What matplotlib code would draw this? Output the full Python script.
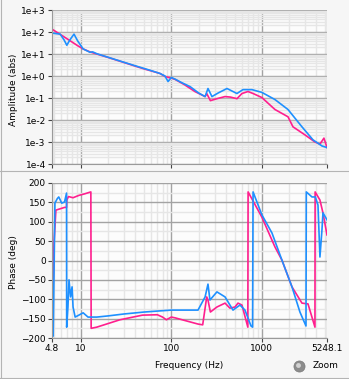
'''
    Bode plot of two measured transfer functions (amplitude + phase)
'''

from matplotlib import pyplot as plt
from matplotlib.ticker import FixedLocator, NullFormatter, LogLocator, MultipleLocator
from matplotlib.lines import Line2D
import numpy as np

# Amplitude, channel A (pink)
amp_a_freq = [4.8, 6.0, 7.0, 8.0, 9.2, 10.6, 12.6, 15, 20, 30, 40, 50, 60, 75,
              85, 100, 110, 140, 182, 236, 246, 270, 319, 392, 450, 531, 603,
              703, 800, 1000, 1396, 1945, 2208, 3000, 3863, 4385, 4853, 5248.1]
amp_a_val = [135, 75, 50, 35, 24, 17, 12.5, 10.0, 7.0, 4.1, 2.8, 2.1, 1.7, 1.3,
             0.95, 0.8, 0.7, 0.4, 0.197, 0.116, 0.16, 0.076, 0.093, 0.116, 0.11,
             0.093, 0.16, 0.197, 0.16, 0.105, 0.030, 0.014, 0.0049, 0.0021,
             0.001, 0.0008, 0.0015, 0.00056]

# Amplitude, channel B (blue)
amp_b_freq = [4.8, 5.3, 5.9, 6.5, 7.0, 7.6, 8.4, 9.2, 10.6, 12.6, 13.5, 15, 20,
              30, 40, 50, 60, 75, 85, 92, 100, 110, 130, 161, 200, 236, 254, 281,
              330, 412, 531, 618, 778, 1000, 1396, 1945, 2775, 3671, 4617, 5248.1]
amp_b_val = [89, 85, 80, 45, 25, 45, 80, 40, 17, 12, 12.5, 10.3, 7.1, 4.2, 2.9,
             2.2, 1.75, 1.3, 1.0, 0.56, 0.86, 0.72, 0.5, 0.33, 0.17, 0.116, 0.27,
             0.116, 0.17, 0.27, 0.16, 0.24, 0.24, 0.18, 0.085, 0.030, 0.0049,
             0.00126, 0.00066, 0.00056]

# Phase, channel A (pink)
ph_a_freq = [4.85, 4.9, 5.05, 5.3, 6.6, 6.95, 7.0, 7.3, 8.2, 9.5, 11, 12.9, 13.0,
             15, 27, 48, 70, 80, 88, 100, 110, 197, 222, 246, 254, 270, 319, 392,
             444, 505, 545, 603, 700, 705, 1000, 1396, 1667, 2152, 2775, 3236,
             3863, 3880, 4385, 4735, 5248.1]
ph_a_val = [-146, -100, 45, 130, 137, 137, 156, 165, 162, 168, 172, 177, -175,
            -172, -153, -141, -140, -146, -153, -146, -148, -164, -166, -94, -102,
            -133, -120, -110, -123, -120, -110, -115, -172, 177, 112, 35, 1, -68,
            -110, -112, -172, 177, 156, 123, 66]

# Phase, channel B (blue)
ph_b_freq = [4.8, 4.88, 4.95, 5.17, 5.5, 5.7, 6.15, 6.6, 6.95, 6.97, 7.2, 7.4,
             7.7, 8.0, 8.2, 8.65, 9.5, 10.6, 12, 15, 20, 30, 50, 75, 100, 197,
             236, 254, 267, 319, 392, 480, 573, 651, 759, 790, 800, 1000, 1294,
             1667, 2152, 2636, 3075, 3100, 3581, 3900, 4172, 4385, 4617, 4735,
             5248.1]
ph_b_val = [-195, -120, -195, 148, 160, 164, 148, 151, 174, -172, -120, -50, -94,
            -68, -120, -146, -141, -135, -146, -146, -143, -138, -133, -130, -128,
            -128, -94, -61, -102, -81, -94, -128, -115, -128, -169, -172, 177, 118,
            71, 1, -68, -133, -169, 177, 164, 164, 143, 9, 79, 123, 105]

X_TICKS = [4.8, 10, 100, 1000, 5248.1]
X_LABELS = ['4.8', '10', '100', '1000', '5248.1']
AMP_TICKS = [1e3, 1e2, 1e1, 1e0, 1e-1, 1e-2, 1e-3, 1e-4]
AMP_LABELS = ['1e+3', '1e+2', '1e+1', '1e+0', '1e-1', '1e-2', '1e-3', '1e-4']
PH_TICKS = [200, 150, 100, 50, 0, -50, -100, -150, -200]

PINK = '#ff1f8e'
BLUE = '#1e90ff'
BG = '#f6f6f6'
PLOT_BG = '#fcfcfc'
FONT = 6.5

W, H = 349, 379


def style_axes(ax):
    ax.set_facecolor(PLOT_BG)
    ax.set_xscale('log')
    ax.set_xlim(4.8, 5248.1)
    ax.xaxis.set_major_locator(FixedLocator(X_TICKS))
    ax.xaxis.set_minor_locator(LogLocator(base=10, subs=np.arange(2, 10)))
    ax.xaxis.set_minor_formatter(NullFormatter())
    ax.grid(True, which='major', color='#a3a3a3', lw=1.0)
    ax.grid(True, which='minor', color='#e6e6e6', lw=1.0)
    ax.set_axisbelow(True)
    for s in ['top', 'right']:
        ax.spines[s].set_visible(False)
    for s in ['left', 'bottom']:
        ax.spines[s].set_color('#9a9a9a')
        ax.spines[s].set_linewidth(0.8)
    ax.tick_params(which='major', length=3, width=0.8, color='#444444',
                   labelsize=FONT, pad=1.5)
    ax.tick_params(which='minor', length=0)


def main():
    fig = plt.figure(figsize=(W / 100, H / 100), dpi=100)
    fig.patch.set_facecolor(BG)
    plt.rcParams['font.family'] = 'DejaVu Sans'

    # panel frames
    fig.add_artist(Line2D([0, 1], [1 - 171 / H] * 2, color='#b4b4b4', lw=0.8))
    fig.add_artist(Line2D([0.5 / W, 0.5 / W], [0, 1], color='#b4b4b4', lw=0.8))
    fig.add_artist(Line2D([0, 1], [1.5 / H] * 2, color='#b4b4b4', lw=0.8))

    left, right = 52, 327
    ax_amp = fig.add_axes([left / W, 1 - 164 / H, (right - left) / W, 154 / H])
    ax_ph = fig.add_axes([left / W, 1 - 338 / H, (right - left) / W, 155 / H])

    # amplitude
    style_axes(ax_amp)
    ax_amp.set_yscale('log')
    ax_amp.set_ylim(1e-4, 1e3)
    ax_amp.yaxis.set_major_locator(FixedLocator(AMP_TICKS))
    ax_amp.set_yticklabels(AMP_LABELS)
    ax_amp.yaxis.set_minor_locator(LogLocator(base=10, subs=np.arange(2, 10)))
    ax_amp.yaxis.set_minor_formatter(NullFormatter())
    ax_amp.set_xticklabels([])
    ax_amp.plot(amp_a_freq, amp_a_val, color=PINK, lw=1.2)
    ax_amp.plot(amp_b_freq, amp_b_val, color=BLUE, lw=1.2)

    # phase
    style_axes(ax_ph)
    ax_ph.set_ylim(-200, 200)
    ax_ph.yaxis.set_major_locator(FixedLocator(PH_TICKS))
    ax_ph.yaxis.set_minor_locator(MultipleLocator(25))
    ax_ph.set_xticklabels(X_LABELS)
    ax_ph.plot(ph_a_freq, ph_a_val, color=PINK, lw=1.2, clip_on=True)
    ax_ph.plot(ph_b_freq, ph_b_val, color=BLUE, lw=1.2, clip_on=True)

    # axis titles
    fig.text(14 / W, 1 - 90 / H, 'Amplitude (abs)', rotation=90, ha='center',
             va='center', fontsize=FONT)
    fig.text(14 / W, 1 - 262 / H, 'Phase (deg)', rotation=90, ha='center',
             va='center', fontsize=FONT)
    fig.text(189 / W, 1 - 365 / H, 'Frequency (Hz)', ha='center', va='center',
             fontsize=FONT)

    # zoom indicator
    cx, cy = 299 / W, 1 - 366 / H
    fig.add_artist(Line2D([cx], [cy], marker='o', markersize=8,
                          markerfacecolor='#8c8c8c', markeredgecolor='#7a7a7a',
                          markeredgewidth=0.5))
    fig.add_artist(Line2D([cx - 0.8 / W], [cy + 1.2 / H], marker='o',
                          markersize=3.5, markerfacecolor='#d2d2d2',
                          markeredgecolor='none'))
    fig.text(313 / W, cy, 'Zoom', ha='left', va='center', fontsize=FONT)

    fig.savefig('out.png', dpi=100, facecolor=fig.get_facecolor())
    plt.close(fig)


if __name__ == '__main__': main()
